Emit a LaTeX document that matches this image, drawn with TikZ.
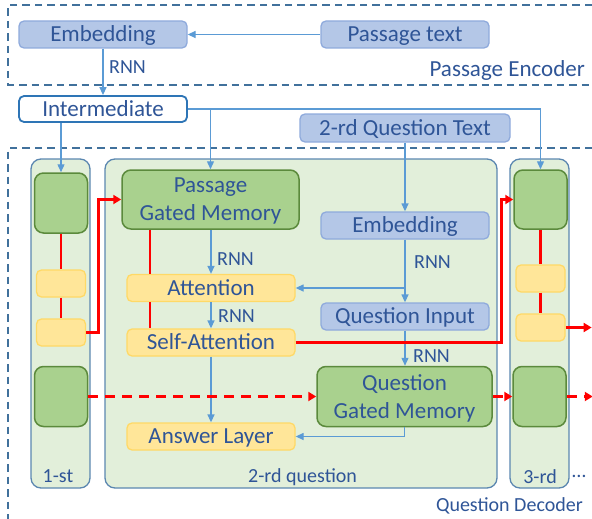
\documentclass[tikz,border=0pt]{standalone}
\usepackage{fontspec}
\setmainfont{Carlito}
\usetikzlibrary{arrows.meta}

\definecolor{txtblue}{HTML}{2F5597}
\definecolor{arrblue}{HTML}{5B9BD5}
\definecolor{frameblue}{HTML}{41719C}
\definecolor{inblue}{HTML}{B4C7E7}
\definecolor{inblueline}{HTML}{8FAADC}
\definecolor{gategreen}{HTML}{A9D18E}
\definecolor{gateline}{HTML}{5B8A3C}
\definecolor{attyellow}{HTML}{FFE699}
\definecolor{attline}{HTML}{FFD966}
\definecolor{colgreen}{HTML}{E2EFDA}
\definecolor{colline}{HTML}{5B87B0}
\definecolor{interline}{HTML}{2E75B6}

\newcommand\boxfont{\fontsize{23}{28}\selectfont}
\newcommand\tagfont{\fontsize{20}{24}\selectfont}

\begin{document}
\begin{tikzpicture}[x=1pt,y=-1pt,
  frame/.style={draw=frameblue, line width=2.3pt, dash pattern=on 7.5pt off 5pt},
  colbox/.style={draw=colline, fill=colgreen, line width=1.3pt, rounded corners=10pt,
    minimum width=59pt, minimum height=329pt, inner sep=0pt},
  inbox/.style={draw=inblueline, fill=inblue, line width=1.3pt, rounded corners=5pt,
    minimum width=168pt, minimum height=27pt, inner sep=0pt, text=txtblue, font=\boxfont,
    text height=14.5pt, text depth=0pt},
  attbox/.style={inbox, draw=attline, fill=attyellow},
  gatebox/.style={draw=gateline, fill=gategreen, line width=1.5pt, rounded corners=9pt,
    inner sep=0pt, text=txtblue, font=\boxfont, align=center, text depth=-8pt},
  tag/.style={text=txtblue, font=\tagfont, inner sep=0pt},
  flow/.style={draw=arrblue, line width=1.3pt, -{Triangle[length=8pt,width=7pt]}},
  memline/.style={draw=red, line width=2.6pt},
  memflow/.style={memline, -{Triangle[length=8pt,width=9pt]}},
  memskip/.style={memflow, dash pattern=on 10pt off 7pt}]
\useasboundingbox (0,0) rectangle (592,519);

% encoder and decoder frames
\draw[frame] (592,5) -- (8,5) -- (8,85) -- (592,85);
\draw[frame] (592,148) -- (8,148) -- (8,519);
\node[text=txtblue, font=\boxfont, inner sep=0pt, anchor=base east] (encname) at (585,77) {Passage Encoder};
\node[tag, anchor=base east] (decname) at (583,511) {Question Decoder};

% passage encoder
\node[inbox] (pemb) at (103,34.5) {Embedding};
\node[inbox] (ptext) at (405,34.5) {Passage text};
\node[inbox, fill=white, draw=interline, line width=1.8pt, minimum height=26pt] (inter) at (103,109) {Intermediate};
\node[inbox, minimum width=210pt, minimum height=28pt] (qtext) at (405,128) {2-rd Question Text};

% question columns
\node[colbox] (col1) at (60.5,323.5) {};
\node[colbox, minimum width=392pt] (col2) at (301,323.5) {};
\node[colbox] (col3) at (539.5,323.5) {};
\node[tag, anchor=base] (name1) at (58,482) {1-st};
\node[tag, anchor=base west] (name2) at (248,482) {2-rd question};
\node[tag, anchor=base] (name3) at (540,483) {3-rd};
\node[tag, anchor=base west] (more) at (572,477) {…};

% 1-st question
\node[gatebox, minimum width=53pt, minimum height=60pt] (g1a) at (61,203) {};
\node[attbox, minimum width=49pt] (y1a) at (61,283.5) {};
\node[attbox, minimum width=49pt] (y1b) at (61,332.5) {};
\node[gatebox, minimum width=53pt, minimum height=60pt] (g1b) at (61,396.5) {};

% 2-rd question
\node[gatebox, minimum width=177pt, minimum height=59pt] (pgm) at (210.5,199.5) {Passage\\Gated Memory};
\node[attbox] (att) at (211,288) {Attention};
\node[attbox] (self) at (211,342.5) {Self-Attention};
\node[attbox] (ans) at (211,436.5) {Answer Layer};
\node[inbox] (qemb) at (405,225.5) {Embedding};
\node[inbox] (qin) at (405,316.5) {Question Input};
\node[gatebox, minimum width=175pt, minimum height=60pt] (qgm) at (404.5,396.5) {Question\\Gated Memory};

% 3-rd question
\node[gatebox, minimum width=53pt, minimum height=59pt] (g3a) at (540.5,199.5) {};
\node[attbox, minimum width=49pt] (y3a) at (540.5,278.5) {};
\node[attbox, minimum width=49pt] (y3b) at (540.5,327.5) {};
\node[gatebox, minimum width=53pt, minimum height=60pt] (g3b) at (539.5,396.5) {};

% blue data flow
\draw[flow] (ptext) -- (pemb);
\draw[flow] (pemb) -- (inter);
\node[tag, anchor=base west] (rnn1) at (109,74) {RNN};
\draw[flow] (inter.south -| g1a.north) -- (g1a.north);
\draw[flow] (inter.east) -| (g3a.north);
\draw[flow] (pgm.north |- inter.east) -- (pgm.north);
\draw[flow] (qtext) -- (qemb);
\draw[flow] (qemb) -- (qin);
\draw[flow] (qemb.south |- att.east) -- (att.east);
\node[tag, anchor=base west] (rnn4) at (414,268) {RNN};
\draw[flow] (qin) -- (qgm.north -| qin.south);
\node[tag, anchor=base west] (rnn5) at (413,362) {RNN};
\draw[flow] (pgm.south -| att.north) -- (att.north);
\node[tag, anchor=base west] (rnn2) at (217,265) {RNN};
\draw[flow] (att) -- (self);
\node[tag, anchor=base west] (rnn3) at (218,322) {RNN};
\draw[flow] (self) -- (ans);
\draw[flow] (qgm.south) |- (ans.east);

% red memory flow
\coordinate (leg) at (150,0);
\draw[memline] (g1a) -- (y1a);
\draw[memline] (y1a) -- (y1b);
\draw[memflow] (y1b.east) -| ([xshift=-23pt]pgm.west) -- (pgm.west);
\draw[memline] (pgm.south -| leg) -- (att.north -| leg);
\draw[memline] (att.south -| leg) -- (self.north -| leg);
\draw[memflow] (self.east) -| ([xshift=-12pt]g3a.west) -- (g3a.west);
\draw[memline] (g3a) -- (y3a);
\draw[memline] (y3a) -- (y3b);
\draw[memflow] (y3b.east) -- ++(26,0);
\draw[memskip] (g1b) -- (qgm);
\draw[memskip] (qgm) -- (g3b);
\draw[memskip] (g3b.east) -- ++(26,0);

\end{tikzpicture}
\end{document}
